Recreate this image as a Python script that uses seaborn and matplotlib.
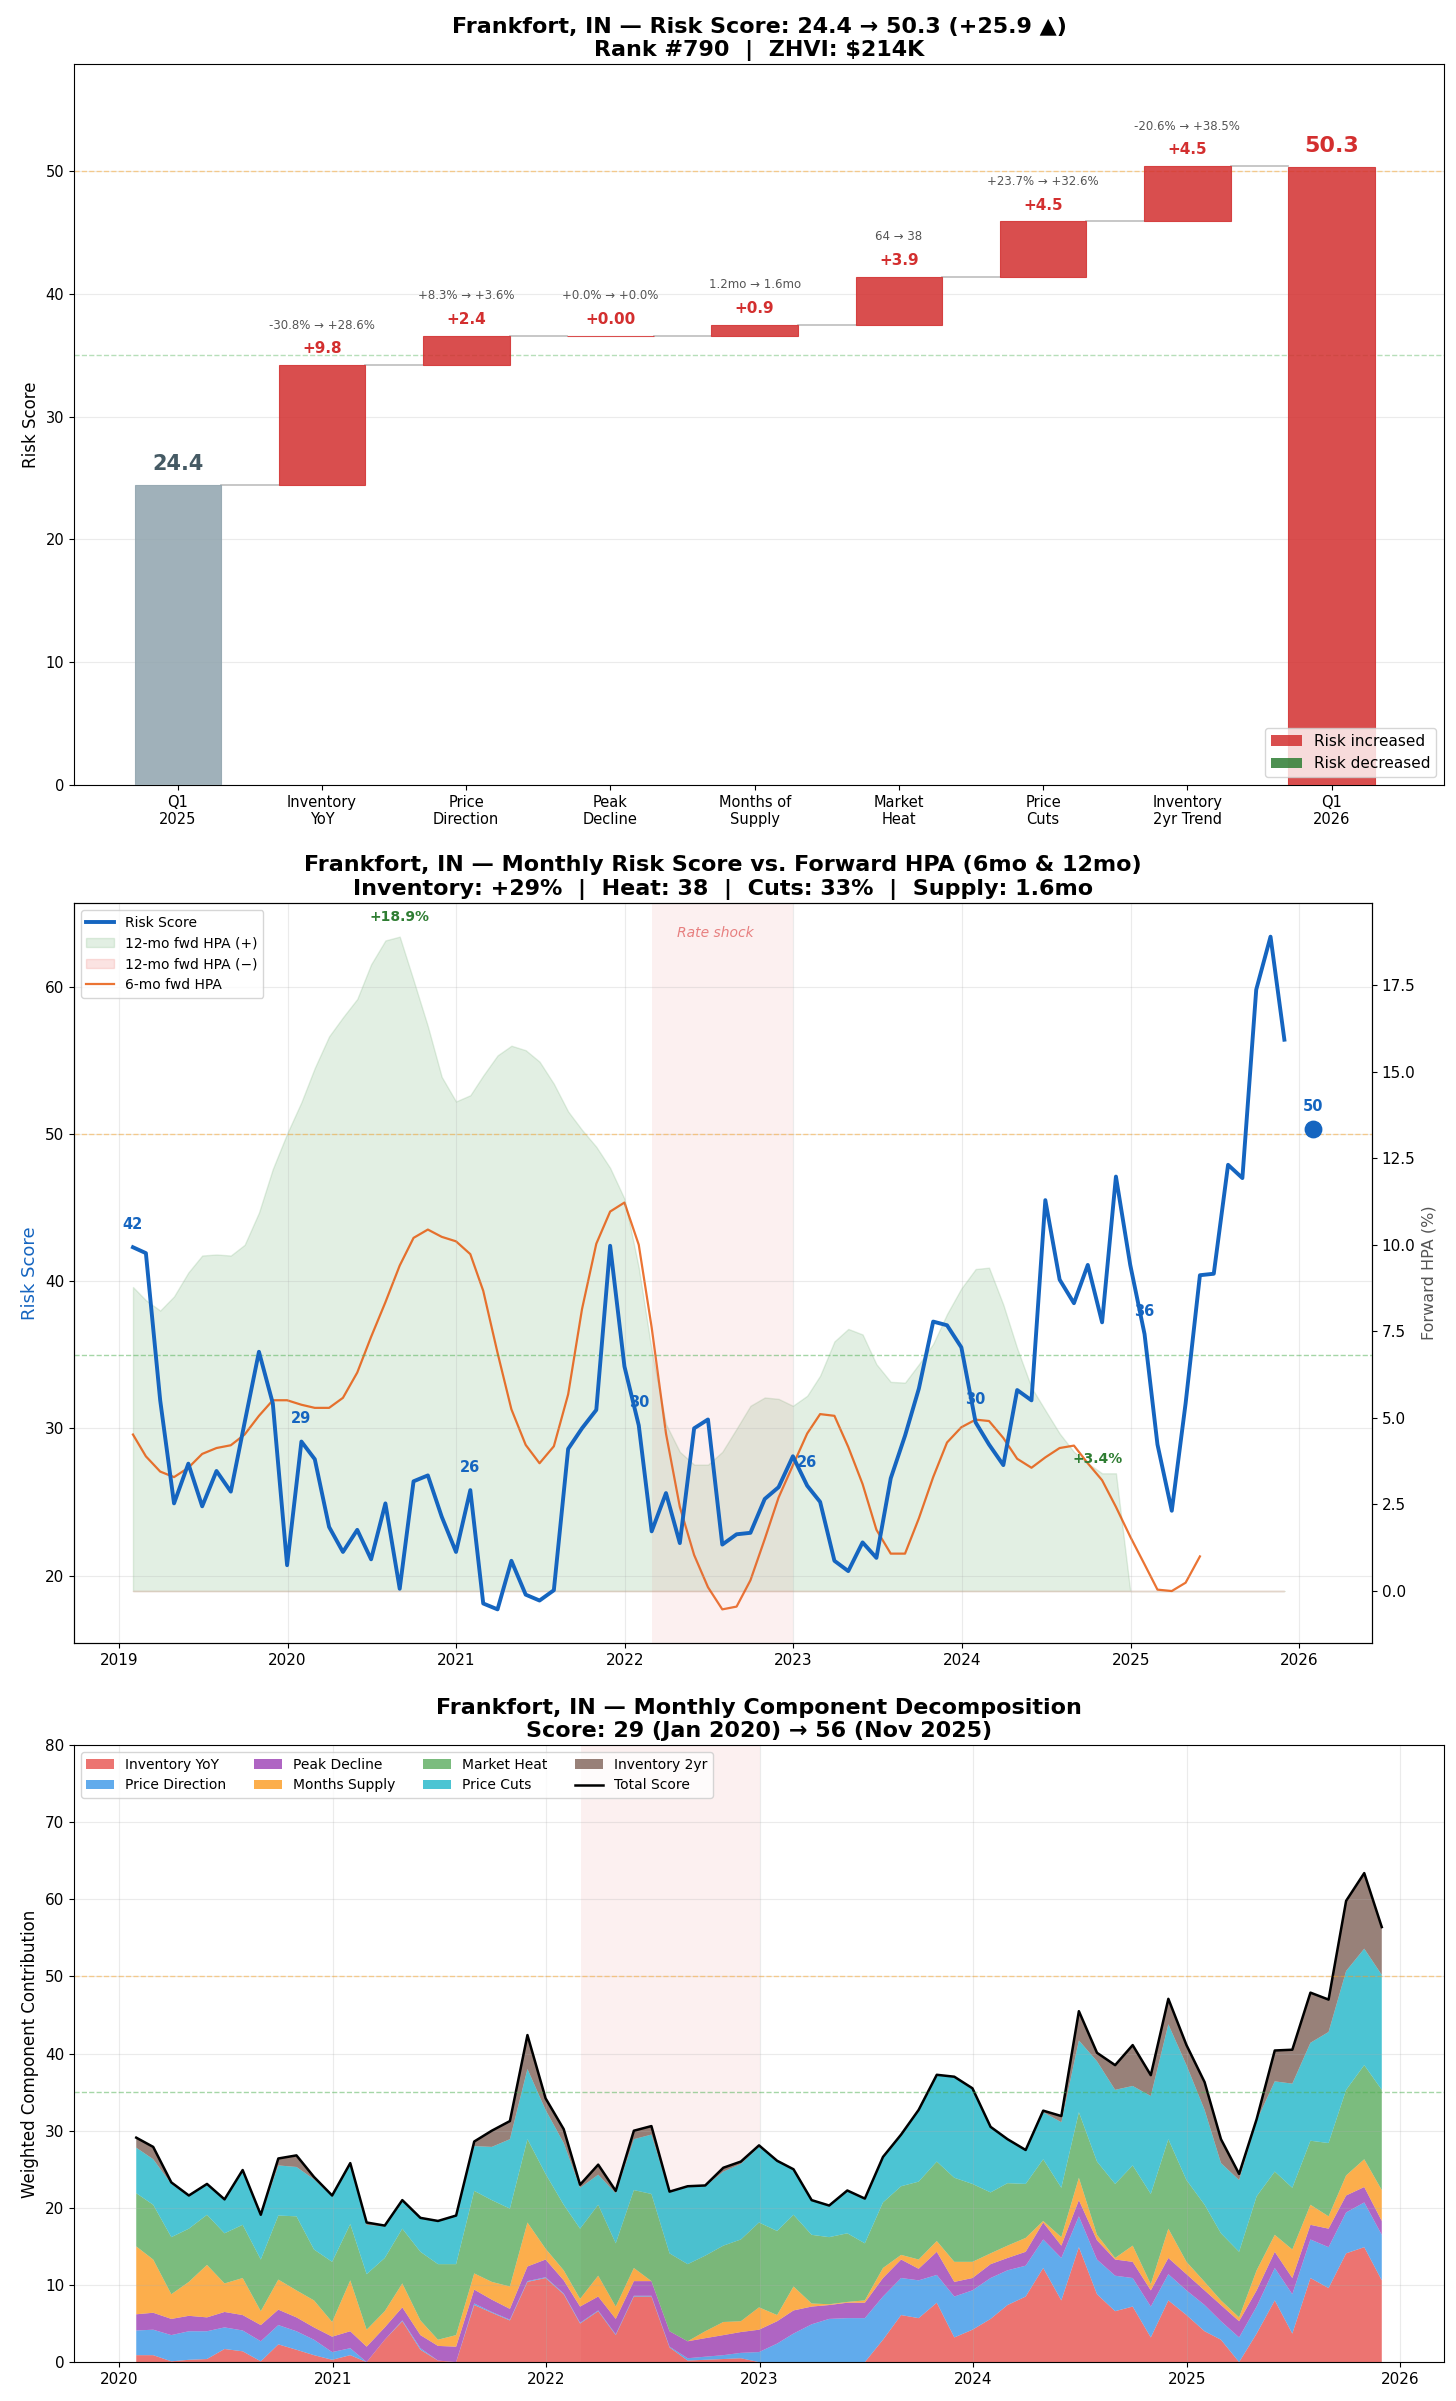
import numpy as np
import pandas as pd
import matplotlib
matplotlib.use('Agg')
import matplotlib.pyplot as plt
import seaborn as sns
from matplotlib.patches import Patch
from matplotlib.lines import Line2D

plt.rcParams['font.family'] = ['DejaVu Sans']

# ---------------- DATA ----------------
city = 'Frankfort, IN'
# Waterfall (Q1 2025 -> Q1 2026)
wf_categories = ['Q1\n2025', 'Inventory\nYoY', 'Price\nDirection', 'Peak\nDecline', 'Months of\nSupply',
                 'Market\nHeat', 'Price\nCuts', 'Inventory\n2yr Trend', 'Q1\n2026']
start_score = 24.4
end_score = 50.3
wf_deltas = [9.8, 2.4, 0.0, 0.9, 3.9, 4.5, 4.5]
wf_delta_labels = ['+9.8', '+2.4', '+0.00', '+0.9', '+3.9', '+4.5', '+4.5']
wf_details = ['-30.8% → +28.6%', '+8.3% → +3.6%', '+0.0% → +0.0%', '1.2mo → 1.6mo',
              '64 → 38', '+23.7% → +32.6%', '-20.6% → +38.5%']

# Monthly risk score, Jan 2019 .. Nov 2025 (month ends)
risk_score = [42.3, 41.9, 31.9, 24.9, 27.6, 24.7, 27.1, 25.7, 30.4, 35.2, 31.7, 20.7,
              29.1, 27.9, 23.3, 21.6, 23.1, 21.1, 24.9, 19.1, 26.4, 26.8, 24.0, 21.6,
              25.8, 18.1, 17.7, 21.0, 18.7, 18.3, 19.0, 28.6, 30.0, 31.25, 42.4, 34.2,
              30.2, 23.0, 25.6, 22.2, 30.0, 30.6, 22.1, 22.8, 22.9, 25.2, 26.0, 28.1,
              26.1, 25.0, 21.0, 20.3, 22.25, 21.2, 26.6, 29.5, 32.7, 37.25, 37.0, 35.5,
              30.4, 28.9, 27.5, 32.6, 31.9, 45.5, 40.1, 38.5, 41.1, 37.2, 47.1, 41.1,
              36.4, 28.9, 24.4, 31.7, 40.4, 40.5, 47.9, 47.0, 59.8, 63.4, 56.4]
current_score = 50.3
current_date = '2026-01-31'

# 6-month forward HPA (%), Jan 2019 .. May 2025
hpa_6mo = [4.52, 3.89, 3.45, 3.29, 3.56, 3.96, 4.13, 4.21, 4.52, 5.06, 5.51, 5.51,
           5.38, 5.29, 5.29, 5.58, 6.31, 7.34, 8.34, 9.40, 10.2, 10.44, 10.23, 10.1,
           9.73, 8.67, 6.88, 5.25, 4.22, 3.69, 4.18, 5.68, 8.14, 10.03, 10.96, 11.22,
           10.0, 7.61, 4.55, 2.43, 1.04, 0.11, -0.53, -0.45, 0.31, 1.5, 2.7, 3.63,
           4.55, 5.11, 5.06, 4.16, 3.09, 1.77, 1.08, 1.08, 2.1, 3.29, 4.29, 4.73,
           4.95, 4.91, 4.42, 3.82, 3.56, 3.86, 4.13, 4.2, 3.69, 3.2, 2.43, 1.57,
           0.77, 0.04, 0.0, 0.24, 1.0]

# 12-month forward HPA (%), Jan 2019 .. Nov 2024
hpa_12mo = [8.78, 8.4, 8.1, 8.51, 9.2, 9.69, 9.72, 9.69, 10.0, 10.93, 12.19, 13.21,
            14.12, 15.11, 16.02, 16.57, 17.1, 18.1, 18.79, 18.9, 17.64, 16.31, 14.85, 14.14,
            14.32, 14.89, 15.47, 15.75, 15.62, 15.29, 14.65, 13.85, 13.32, 12.83, 12.22, 11.33,
            9.34, 6.95, 4.82, 4.02, 3.65, 3.65, 4.02, 4.69, 5.35, 5.59, 5.55, 5.35,
            5.64, 6.22, 7.21, 7.57, 7.41, 6.55, 6.04, 6.02, 6.55, 7.14, 8.0, 8.74,
            9.3, 9.34, 8.27, 7.01, 5.88, 5.22, 4.55, 4.02, 3.69, 3.4, 3.4]

rate_shock = ('2022-03-01', '2023-01-01')
subtitle_mid = 'Inventory: +29%  |  Heat: 38  |  Cuts: 33%  |  Supply: 1.6mo'

# Component decomposition, Jan 2020 .. Nov 2025
comp_names = ['Inventory YoY', 'Price Direction', 'Peak Decline', 'Months Supply',
              'Market Heat', 'Price Cuts', 'Inventory 2yr']
inventory_yoy = [0.9, 0.9, 0.1, 0.3, 0.4, 1.7, 1.4, 0.1, 2.3, 1.6, 0.9, 0.3,
                 0.9, 0.0, 2.9, 5.3, 1.6, 0.2, 0.0, 7.4, 6.4, 5.4, 10.4, 10.9,
                 8.8, 5.0, 6.6, 3.5, 8.5, 8.5, 1.9, 0.2, 0.3, 0.4, 0.5, 0.0,
                 0.0, 0.0, 0.0, 0.0, 0.0, 0.0, 2.9, 6.1, 5.7, 7.7, 3.2, 4.2,
                 5.6, 7.4, 8.5, 12.2, 8.0, 14.9, 8.8, 6.6, 7.2, 3.2, 8.0, 6.1,
                 4.0, 2.9, 0.0, 3.7, 8.0, 3.7, 10.9, 9.6, 14.1, 14.9, 10.6]
price_direction = [3.2, 3.3, 3.4, 3.7, 3.6, 2.8, 2.7, 2.6, 2.5, 2.4, 2.0, 1.0,
                   0.9, 0.0, 0.0, 0.1, 0.2, 0.0, 0.0, 0.2, 0.1, 0.1, 0.1, 0.1,
                   0.1, 0.1, 0.1, 0.1, 0.1, 0.1, 0.1, 0.3, 0.4, 0.5, 0.7, 1.3,
                   2.4, 3.7, 4.9, 5.6, 5.7, 5.7, 5.6, 4.8, 4.9, 3.6, 5.3, 5.1,
                   5.3, 4.5, 4.0, 3.7, 5.5, 4.0, 4.5, 4.6, 3.7, 4.0, 3.4, 3.2,
                   3.4, 2.4, 3.2, 3.5, 4.2, 5.1, 5.0, 5.3, 5.3, 5.8, 5.9]
peak_decline = [2.1, 2.2, 2.1, 2.0, 1.8, 2.0, 2.0, 2.1, 2.0, 1.8, 1.6, 2.0,
                2.2, 2.0, 1.6, 1.7, 1.7, 1.9, 2.0, 1.8, 1.6, 1.4, 1.9, 2.3,
                1.7, 2.1, 1.8, 2.0, 1.9, 1.9, 2.0, 2.2, 2.4, 2.6, 2.7, 2.9,
                2.9, 3.0, 2.3, 1.8, 2.0, 2.0, 2.4, 2.4, 1.5, 3.0, 1.9, 1.6,
                1.8, 1.6, 1.8, 2.2, 1.6, 2.1, 2.5, 2.1, 2.1, 2.1, 2.1, 2.1,
                1.9, 2.1, 2.1, 2.1, 2.1, 2.1, 1.9, 2.4, 2.2, 2.0, 1.8]
months_supply = [8.8, 6.9, 3.2, 4.4, 6.8, 3.7, 4.8, 1.8, 3.9, 3.5, 3.5, 1.9,
                 6.6, 2.2, 2.1, 3.1, 1.9, 0.8, 1.5, 2.1, 2.3, 2.9, 5.7, 1.4,
                 1.3, 1.0, 2.7, 1.6, 1.7, 0.0, 0.0, 0.0, 0.9, 1.7, 1.4, 2.9,
                 0.8, 3.1, 0.4, 0.1, 0.1, 0.3, 1.3, 0.6, 1.2, 1.4, 2.6, 2.1,
                 1.4, 1.6, 1.8, 0.2, 1.1, 2.9, 0.7, 0.2, 2.1, 0.8, 3.8, 1.6,
                 1.1, 0.6, 0.5, 2.6, 2.2, 3.7, 2.6, 1.6, 2.6, 3.6, 4.0]
market_heat = [6.9, 7.1, 7.4, 6.9, 6.5, 6.5, 6.9, 6.7, 8.3, 9.6, 6.6, 7.8,
               7.3, 7.2, 6.9, 7.1, 8.9, 9.8, 9.2, 10.7, 10.6, 10.1, 10.8, 9.7,
               8.5, 9.1, 9.2, 8.2, 10.1, 11.3, 10.1, 10.0, 9.8, 9.9, 10.6, 11.0,
               10.9, 9.3, 8.9, 8.7, 8.9, 7.4, 8.5, 8.9, 10.1, 10.3, 10.9, 10.1,
               7.9, 8.1, 7.0, 8.0, 6.4, 8.5, 9.5, 9.6, 10.4, 11.7, 11.6, 10.6,
               10.0, 8.7, 8.5, 9.6, 8.2, 8.0, 8.3, 9.5, 11.1, 12.2, 13.0]
price_cuts = [5.9, 5.9, 6.9, 4.2, 4.0, 4.4, 6.9, 5.6, 6.5, 6.4, 9.1, 8.5,
              7.8, 6.4, 4.1, 3.7, 4.3, 5.6, 6.3, 5.8, 6.9, 9.0, 9.1, 8.3,
              8.0, 5.3, 3.9, 6.5, 6.6, 7.7, 7.9, 10.0, 9.0, 9.6, 9.8, 9.8,
              9.1, 5.9, 4.5, 4.1, 5.55, 5.7, 5.9, 6.7, 9.3, 11.2, 13.0, 12.3,
              8.5, 5.7, 4.4, 6.1, 8.5, 9.3, 13.0, 12.2, 10.3, 12.7, 14.9, 14.9,
              12.3, 9.1, 9.3, 9.8, 11.7, 13.5, 12.7, 14.4, 15.4, 15.1, 14.9]
inventory_2yr = [1.3, 1.6, 0.2, 0.1, 0.0, 0.0, 0.2, 0.2, 0.9, 1.5, 0.3, 0.1,
                 0.1, 0.3, 0.1, 0.0, 0.1, 0.0, 0.0, 0.6, 2.1, 2.35, 4.4, 1.5,
                 1.8, 0.4, 1.3, 0.3, 1.1, 1.1, 0.1, 0.1, 0.1, 0.5, 0.3, 0.2,
                 0.0, 0.0, 0.0, 0.0, 0.0, 0.1, 0.0, 0.0, 0.0, 0.05, 0.1, 0.1,
                 0.0, 0.0, 0.0, 0.2, 0.8, 3.8, 1.1, 3.2, 5.3, 2.7, 3.3, 2.6,
                 3.6, 3.1, 0.8, 0.2, 4.0, 4.4, 6.5, 4.2, 9.1, 9.8, 6.2]
comp_score_first, comp_score_last = 29, 56

# ---------------- STYLE ----------------
RED = '#d32f2f'
GREEN = '#2e7d32'
BLUE = '#1565c0'
comp_colors = ['#e53935', '#1e88e5', '#8e24aa', '#fb8c00', '#43a047', '#00acc1', '#6d4c41']
TITLE_FS = 16

fig = plt.figure(figsize=(14.56, 24.01), dpi=100)
ax1 = fig.add_axes([0.0508, 0.6730, 0.9410, 0.3003])
ax2 = fig.add_axes([0.0508, 0.3157, 0.8915, 0.3082])
ax3 = fig.add_axes([0.0508, 0.0162, 0.9410, 0.2570])

# ================= PANEL 1: WATERFALL =================
n = len(wf_categories)
xs = np.arange(n)
levels = [start_score]
for d in wf_deltas:
    levels.append(levels[-1] + d)
bottoms = [0] + levels[:-1] + [0]
heights = [start_score] + wf_deltas + [end_score]
colors = ['#90a4ae'] + [RED if d >= 0 else GREEN for d in wf_deltas] + [RED if end_score >= start_score else GREEN]
ax1.bar(xs, heights, bottom=bottoms, width=0.6, color=colors, alpha=0.85,
        edgecolor=colors, linewidth=0.8, zorder=3)
# connectors
tops = [start_score] + levels[1:] + [end_score]
for i in range(n - 1):
    ax1.plot([xs[i] + 0.3, xs[i + 1] - 0.3], [tops[i], tops[i]], color='#bdbdbd', lw=1.2, zorder=2)
ax1.axhline(50, color='#ff9800', ls='--', lw=1, alpha=0.4, zorder=1)
ax1.axhline(35, color='#4caf50', ls='--', lw=1, alpha=0.4, zorder=1)
ax1.text(xs[0], start_score + 0.9, f'{start_score:.1f}', ha='center', va='bottom',
         fontsize=15, fontweight='bold', color='#455a64')
ax1.text(xs[-1], end_score + 0.9, f'{end_score:.1f}', ha='center', va='bottom',
         fontsize=16, fontweight='bold', color=RED)
for i, (d, lab, det) in enumerate(zip(wf_deltas, wf_delta_labels, wf_details)):
    top = levels[i + 1] if d >= 0 else levels[i]
    ax1.text(xs[i + 1], top + 0.7, lab, ha='center', va='bottom', fontsize=11,
             fontweight='bold', color=RED if d >= 0 else GREEN)
    ax1.text(xs[i + 1], top + 2.7, det, ha='center', va='bottom', fontsize=8.5, color='#555555')
ax1.set_xticks(xs)
ax1.set_xticklabels(wf_categories, fontsize=10.5)
ax1.set_xlim(-0.72, n - 1 + 0.78)
ax1.set_ylim(0, 58.7)
ax1.set_ylabel('Risk Score', fontsize=12)
ax1.tick_params(axis='y', labelsize=10.5)
ax1.grid(axis='y', alpha=0.25)
ax1.set_axisbelow(True)
ax1.set_title(f'{city} — Risk Score: {start_score:.1f} → {end_score:.1f} (+{end_score - start_score:.1f} ▲)\n'
              f'Rank #790  |  ZHVI: $214K', fontsize=TITLE_FS, fontweight='bold')
ax1.legend(handles=[Patch(facecolor=RED, alpha=0.85, label='Risk increased'),
                    Patch(facecolor=GREEN, alpha=0.85, label='Risk decreased')],
           loc='lower right', fontsize=11)

# ================= PANEL 2: RISK vs FORWARD HPA =================
dates = pd.date_range('2019-01-31', periods=len(risk_score), freq='ME')
h12 = pd.Series(hpa_12mo, index=dates[:len(hpa_12mo)]).reindex(dates).fillna(0.0).values
h6_dates = dates[:len(hpa_6mo)]
ax2r = ax2.twinx()
ax2.set_zorder(ax2r.get_zorder() + 1)
ax2.patch.set_visible(False)

ax2r.fill_between(dates, 0, np.where(h12 >= 0, h12, 0), color='#388e3c', alpha=0.14, lw=1)
ax2r.fill_between(dates, 0, np.where(h12 < 0, h12, 0), color='#e53935', alpha=0.14, lw=1)
sns.lineplot(x=h6_dates, y=hpa_6mo, ax=ax2r, color='#e65100', alpha=0.8, lw=1.6,
             estimator=None, sort=False)
imax = int(np.argmax(hpa_12mo))
ax2r.annotate(f'+{hpa_12mo[imax]:.1f}%', (dates[imax], hpa_12mo[imax]), xytext=(0, 9),
              textcoords='offset points', ha='center', va='bottom', fontsize=10,
              fontweight='bold', color=GREEN)
ilast = len(hpa_12mo) - 1
ax2r.annotate(f'+{hpa_12mo[ilast]:.1f}%', (dates[ilast], hpa_12mo[ilast]), xytext=(-13, 5),
              textcoords='offset points', ha='center', va='bottom', fontsize=10,
              fontweight='bold', color=GREEN)
ax2r.set_ylabel('Forward HPA (%)', fontsize=11.5, color='#555555')
ax2r.tick_params(axis='y', labelsize=11)

ax2.axvspan(pd.Timestamp(rate_shock[0]), pd.Timestamp(rate_shock[1]), color='#e57373', alpha=0.1, lw=0)
sns.lineplot(x=dates, y=risk_score, ax=ax2, color=BLUE, lw=2.8, estimator=None, sort=False, zorder=5)
ax2.scatter([pd.Timestamp(current_date)], [current_score], s=140, color=BLUE, zorder=6)
ax2.annotate(f'{current_score:.0f}', (pd.Timestamp(current_date), current_score), xytext=(0, 11),
             textcoords='offset points', ha='center', va='bottom', fontsize=10.5,
             fontweight='bold', color=BLUE)
for i in [0, 12, 24, 36, 48, 60, 72]:
    ax2.annotate(f'{risk_score[i]:.0f}', (dates[i], risk_score[i]), xytext=(0, 11),
                 textcoords='offset points', ha='center', va='bottom', fontsize=10.5,
                 fontweight='bold', color=BLUE, zorder=7)
ax2.axhline(50, color='#ff9800', ls='--', lw=1, alpha=0.4)
ax2.axhline(35, color='#4caf50', ls='--', lw=1, alpha=0.5)
ax2.set_ylabel('Risk Score', fontsize=13, color=BLUE)
ax2.set_xlabel('')
ax2.tick_params(labelsize=11)
ax2.grid(alpha=0.25)
ax2.text(pd.Timestamp('2022-07-16'), 0.96, 'Rate shock', transform=ax2.get_xaxis_transform(),
         ha='center', va='center', fontsize=10, style='italic', color='#e57373', alpha=0.9)
ax2.set_title(f'{city} — Monthly Risk Score vs. Forward HPA (6mo & 12mo)\n{subtitle_mid}',
              fontsize=TITLE_FS, fontweight='bold')
handles = [Line2D([0], [0], color=BLUE, lw=2.8, label='Risk Score'),
           Patch(facecolor='#388e3c', edgecolor='#388e3c', alpha=0.14, label='12-mo fwd HPA (+)'),
           Patch(facecolor='#e53935', edgecolor='#e53935', alpha=0.14, label='12-mo fwd HPA (−)'),
           Line2D([0], [0], color='#e65100', alpha=0.8, lw=1.6, label='6-mo fwd HPA')]
ax2.legend(handles=handles, loc='upper left', fontsize=10)

# ================= PANEL 3: COMPONENT DECOMPOSITION =================
cdates = dates[12:12 + len(inventory_yoy)]
comps = [inventory_yoy, price_direction, peak_decline, months_supply, market_heat, price_cuts, inventory_2yr]
ax3.axvspan(pd.Timestamp(rate_shock[0]), pd.Timestamp(rate_shock[1]), color='#e57373', alpha=0.1, lw=0)
ax3.stackplot(cdates, *comps, colors=comp_colors, alpha=0.7, labels=comp_names, lw=0)
total = np.sum(np.array(comps), axis=0)
sns.lineplot(x=cdates, y=total, ax=ax3, color='black', lw=1.8, estimator=None, sort=False,
             label='Total Score')
ax3.axhline(50, color='#ff9800', ls='--', lw=1, alpha=0.4)
ax3.axhline(35, color='#4caf50', ls='--', lw=1, alpha=0.5)
ax3.set_ylim(0, 80)
ax3.set_xlabel('')
ax3.set_ylabel('Weighted Component Contribution', fontsize=12)
ax3.tick_params(labelsize=11)
ax3.grid(alpha=0.25)
ax3.set_title(f'{city} — Monthly Component Decomposition\n'
              f'Score: {comp_score_first} (Jan 2020) → {comp_score_last} (Nov 2025)',
              fontsize=TITLE_FS, fontweight='bold')
ax3.legend(loc='upper left', ncol=4, fontsize=10)

fig.savefig('out.png', dpi=100)
